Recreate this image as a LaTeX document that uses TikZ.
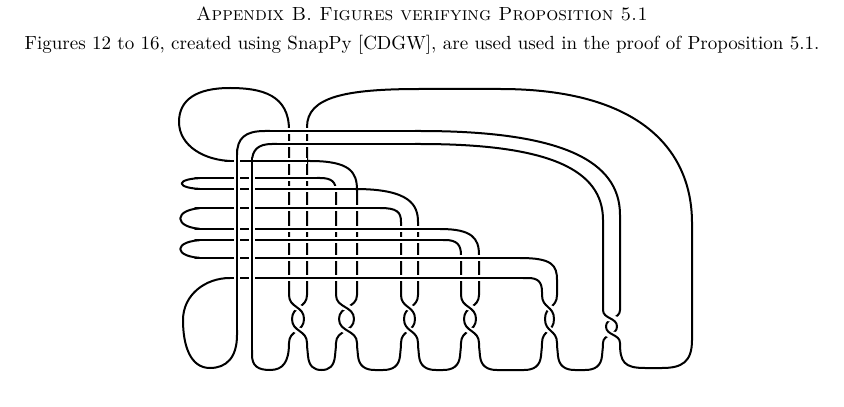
\documentclass[tikz,border=0pt]{standalone}
\begin{document}
\begin{tikzpicture}[x=0.5pt,y=-0.5pt,
  k/.style={line width=1pt,line cap=round,line join=round},
  ov/.style={k,preaction={draw=white,line width=3.2pt,line cap=butt,shorten <=2.5pt,shorten >=2.5pt}}]
\useasboundingbox (0,0) rectangle (844,406);
\node[font=\fontsize{9.5}{11}\selectfont\scshape] (hd) at (422,14) {Appendix B. Figures verifying Proposition 5.1};
\node[font=\fontsize{9.5}{11}\selectfont] (ln) at (422,45) {Figures 12 to 16, created using SnapPy [CDGW], are used used in the proof of Proposition 5.1.};
% top loop
\draw[k] (289,295) -- (289,130) .. controls (289,95) and (262,88) .. (230,88) .. controls (196,88) and (179,100) .. (179,122) .. controls (179,146) and (205,161) .. (233,161) -- (310,161) .. controls (350,161) and (357,172) .. (357,190) -- (357,295);
% big arc D
\draw[k] (307,295) -- (307,127) .. controls (307,97) and (345,89) .. (420,89) -- (500,89) .. controls (640,89) and (692,150) .. (692,223) -- (692,340) .. controls (692,362) and (682,368) .. (662,368) -- (645,368) .. controls (624,368) and (620,362) .. (620,343);
% A
\draw[k] (620,310) -- (620,215) .. controls (620,160) and (560,131) .. (420,131) -- (265,131) .. controls (245,131) and (237,138) .. (237,155) -- (237,335) .. controls (237,358) and (226,368) .. (210,368) .. controls (190,368) and (183,345) .. (183,320) .. controls (183,295) and (205,278) .. (230,278) -- (528,278) .. controls (538,278) and (542,282) .. (542,292) -- (542,295);
% B
\draw[k] (603,310) -- (603,220) .. controls (603,170) and (550,144) .. (420,144) -- (272,144) .. controls (258,144) and (252,150) .. (252,162) -- (252,355) .. controls (252,366) and (258,370) .. (270,370) .. controls (283,370) and (289,362) .. (289,343);
% hairpins
\draw[k] (336,295) -- (336,192) .. controls (336,182) and (332,178) .. (320,178) -- (205,178) .. controls (174,178) and (174,189) .. (205,189) -- (355,189) .. controls (410,189) and (418,205) .. (418,222) -- (418,295);
\draw[k] (401,295) -- (401,222) .. controls (401,212) and (397,208) .. (380,208) -- (205,208) .. controls (172,208) and (172,229) .. (205,229) -- (440,229) .. controls (472,229) and (479,238) .. (479,255) -- (479,295);
\draw[k] (461,295) -- (461,255) .. controls (461,245) and (457,240) .. (445,240) -- (205,240) .. controls (172,240) and (172,258) .. (205,258) -- (520,258) .. controls (552,258) and (557,265) .. (557,280) -- (557,295);
% bottoms
\foreach \a/\b in {307/336,357/401,418/461,479/542,557/603}{
  \pgfmathsetmacro\rr{min(18,(\b-\a)/2)}
  \draw[k] (\a,343) .. controls (\a,350) and (\a+1,352) .. (\a+1,356) .. controls (\a+2,366) and (\a+0.45*\rr,370) .. (\a+\rr,370) -- (\b-\rr,370) .. controls (\b-0.45*\rr,370) and (\b-2,366) .. (\b-1,356) .. controls (\b-1,352) and (\b,350) .. (\b,343);
}
% twists
\foreach \xa/\xb/\ya in {289/307/295,336/357/295,401/418/295,461/479/295,542/557/295,603/620/310}{
  \pgfmathsetmacro\ym{(\ya+343)/2}
  \pgfmathsetmacro\kk{(\ym-\ya)*0.55}
  \pgfmathsetmacro\pa{\xa+3}
  \pgfmathsetmacro\pb{\xb-3}
  \draw[k] (\xb,\ya) .. controls (\xb,\ya+\kk) and (\pa,\ym-\kk) .. (\pa,\ym);
  \draw[k] (\pb,\ym) .. controls (\pb,\ym+\kk) and (\xa,343-\kk) .. (\xa,343);
  \draw[ov] (\xa,\ya) .. controls (\xa,\ya+\kk) and (\pb,\ym-\kk) .. (\pb,\ym);
  \draw[ov] (\pa,\ym) .. controls (\pa,\ym+\kk) and (\xb,343-\kk) .. (\xb,343);
}
% horizontals over verticals
\foreach \y/\l/\r in {131/265/420,144/272/420,161/225/312,178/195/322,189/195/360,208/195/385,229/195/445,240/195/448,258/195/525,278/225/528}{
  \draw[ov] (\l,\y) -- (\r,\y);
}
% A and B over horizontals
\draw[ov] (237,150) -- (237,335);
\draw[ov] (252,158) -- (252,355);
\end{tikzpicture}
\end{document}
